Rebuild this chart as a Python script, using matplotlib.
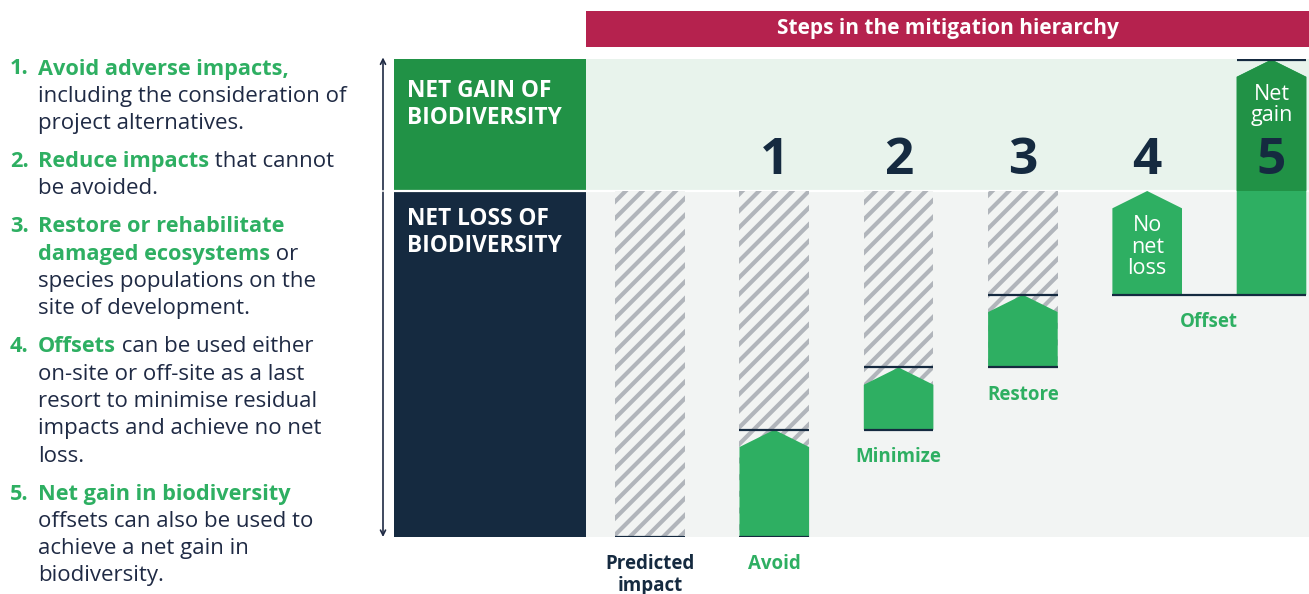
import matplotlib
matplotlib.use("Agg")
import matplotlib.pyplot as plt
from matplotlib.patches import Rectangle, Polygon

plt.rcParams['font.family'] = ['Open Sans', 'DejaVu Sans']
plt.rcParams['hatch.linewidth'] = 3.0

# ---------------- data ----------------
step_labels = ["Predicted\nimpact", "Avoid", "Minimize", "Restore", "", ""]
step_numbers = ["", "1", "2", "3", "4", "5"]
levels = [-100, -69, -51, -30, 0, 38]          # level reached after each step
bar_bottoms = [-100, -100, -69, -51, -30, -30]  # level each step starts from
bar_texts = ["", "", "", "", "No\nnet\nloss", "Net\ngain"]
offset_label = "Offset"
header_text = "Steps in the mitigation hierarchy"
gain_label = "NET GAIN OF\nBIODIVERSITY"
loss_label = "NET LOSS OF\nBIODIVERSITY"

# left-hand explanatory list: (number, [lines of (text, is_highlight)])
items = [
    ("1.", [[("Avoid adverse impacts,", True)],
            [("including the consideration of", False)],
            [("project alternatives.", False)]]),
    ("2.", [[("Reduce impacts", True), (" that cannot", False)],
            [("be avoided.", False)]]),
    ("3.", [[("Restore or rehabilitate", True)],
            [("damaged ecosystems", True), (" or", False)],
            [("species populations on the", False)],
            [("site of development.", False)]]),
    ("4.", [[("Offsets", True), (" can be used either", False)],
            [("on-site or off-site as a last", False)],
            [("resort to minimise residual", False)],
            [("impacts and achieve no net", False)],
            [("loss.", False)]]),
    ("5.", [[("Net gain in biodiversity", True)],
            [("offsets can also be used to", False)],
            [("achieve a net gain in", False)],
            [("biodiversity.", False)]]),
]

# ---------------- style ----------------
RED = "#B5224E"
DKGREEN = "#219246"
GREEN = "#2EAF62"
NAVY = "#152A40"
TEXT = "#1F2A44"
LTGREEN = "#E8F3EC"
LTGRAY = "#F2F4F3"
HATCH = "#B1B5BB"

W, H = 1309, 594
fig = plt.figure(figsize=(W / 100, H / 100), dpi=100)
fig.patch.set_facecolor("white")

ax = fig.add_axes([394 / W, (H - 537) / H, (1309 - 394) / W, (537 - 59) / H])
px_x = 124.3
xl = ((394 - 650) / px_x, (1309 - 650) / px_x)
ax.set_xlim(*xl)
ax.set_ylim(-100, 38.15)
ax.axis("off")

ytr = ax.get_yaxis_transform()   # x axes-fraction, y data
split = (586 - 394) / (1309 - 394)

# backgrounds
ax.add_patch(Rectangle((0, 0), split, 40, transform=ytr, color=DKGREEN, zorder=0, lw=0))
ax.add_patch(Rectangle((split, 0), 1 - split, 40, transform=ytr, color=LTGREEN, zorder=0, lw=0))
ax.add_patch(Rectangle((0, -100), split, 100, transform=ytr, color=NAVY, zorder=0, lw=0))
ax.add_patch(Rectangle((split, -100), 1 - split, 100, transform=ytr, color=LTGRAY, zorder=0, lw=0))
ax.axhline(0, color="white", lw=1.6, zorder=1)

ax.text(13 / 915, 25.0, gain_label, transform=ytr, ha="left", va="center",
        color="white", fontsize=16.3, fontweight="bold", linespacing=1.2)
ax.text(13 / 915, -12.0, loss_label, transform=ytr, ha="left", va="center",
        color="white", fontsize=16.3, fontweight="bold", linespacing=1.2)

# vertical double arrow
ax.annotate("", xy=(-11 / 915, 38.6), xytext=(-11 / 915, 0.4), xycoords=ytr, textcoords=ytr,
            arrowprops=dict(arrowstyle="->", color=TEXT, lw=1.2, shrinkA=0, shrinkB=0,
                            mutation_scale=9), annotation_clip=False)
ax.annotate("", xy=(-11 / 915, -100), xytext=(-11 / 915, -0.4), xycoords=ytr, textcoords=ytr,
            arrowprops=dict(arrowstyle="->", color=TEXT, lw=1.2, shrinkA=0, shrinkB=0,
                            mutation_scale=9), annotation_clip=False)

# header bar
ax.add_patch(Rectangle((split, 1.0251), 1 - split, 0.0753, transform=ax.transAxes,
                       color=RED, lw=0, clip_on=False, zorder=2))
ax.text((split + 1) / 2, 1.0628, header_text, transform=ax.transAxes, ha="center",
        va="center", color="white", fontsize=15, fontweight="bold")

# ---------------- bars ----------------
w = 0.56
head = 5


def arrow_poly(x, bottom, top):
    return [(x - w / 2, bottom), (x + w / 2, bottom), (x + w / 2, top - head),
            (x, top), (x - w / 2, top - head)]


for i, (b, lv) in enumerate(zip(bar_bottoms, levels)):
    if i <= 3:
        ax.bar(i, 0 - b, bottom=b, width=w, color=LTGRAY, edgecolor=HATCH,
               hatch="//", lw=0, zorder=2)
    if i >= 1:
        ax.add_patch(Polygon(arrow_poly(i, b, lv), closed=True, color=GREEN, lw=0, zorder=3))
    if lv > 0:
        ax.add_patch(Polygon(arrow_poly(i, 0, lv), closed=True, color=DKGREEN, lw=0, zorder=3))
    if i <= 3:
        ax.hlines(b, i - w / 2, i + w / 2, color=NAVY, lw=1.6, zorder=4)
    if 1 <= i <= 3 or lv > 0:
        ax.hlines(lv, i - w / 2, i + w / 2, color=NAVY, lw=1.6, zorder=4)
    if step_numbers[i]:
        ax.text(i, 8.8, step_numbers[i], ha="center", va="center", fontsize=37,
                fontweight="bold", color=NAVY, zorder=5)
    if bar_texts[i]:
        yc = -16.2 if lv <= 0 else 24.9
        ax.text(i, yc, bar_texts[i], ha="center", va="center", color="white",
                fontsize=15.5, linespacing=1.03, zorder=5)
    if step_labels[i]:
        col = NAVY if i == 0 else GREEN
        ax.annotate(step_labels[i], xy=(i, b), xytext=(0, -12.5), textcoords="offset points",
                    ha="center", va="top", color=col, fontsize=13.5, fontweight="bold",
                    linespacing=1.12, annotation_clip=False)

# offset bottom line and label
ax.hlines(bar_bottoms[4], 4 - w / 2, 5 + w / 2, color=NAVY, lw=1.6, zorder=4)
ax.annotate(offset_label, xy=(4.5, bar_bottoms[4]), xytext=(0, -12.5), textcoords="offset points",
            ha="center", va="top", color=GREEN, fontsize=13.5, fontweight="bold",
            annotation_clip=False)

# ---------------- left list ----------------
fs_reg = 16
fs_bold = 15.7
y = 69
for num, lines in items:
    fig.text(10 / W, 1 - y / H, num, ha="left", va="center", color=GREEN,
             fontsize=fs_bold, fontweight="bold")
    for line in lines:
        prev = None
        for txt, hl in line:
            kw = dict(color=GREEN if hl else TEXT, fontsize=fs_bold if hl else fs_reg,
                      fontweight="bold" if hl else "normal")
            if prev is None:
                prev = fig.text(38 / W, 1 - y / H, txt, ha="left", va="center", **kw)
            else:
                prev = ax.annotate(txt, xy=(1, 0), xycoords=prev, ha="left", va="bottom",
                                   annotation_clip=False, **kw)
        y += 27.3
    y += 38 - 27.3

fig.savefig("out.png", dpi=100, facecolor="white")
